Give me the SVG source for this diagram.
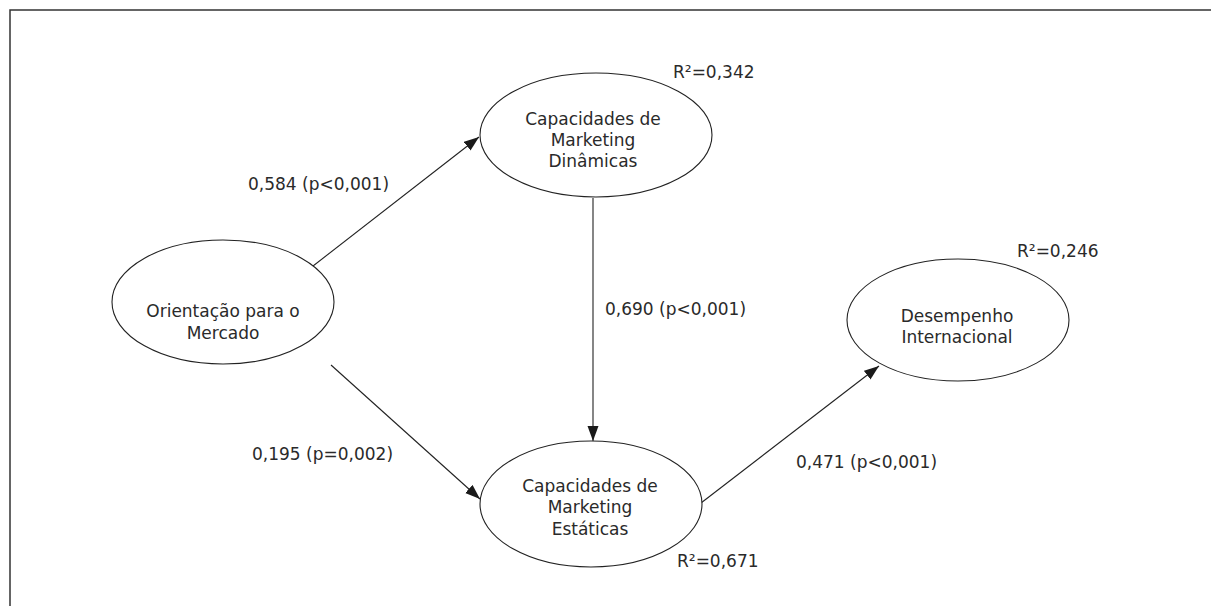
<svg xmlns="http://www.w3.org/2000/svg" width="1211" height="606" viewBox="0 0 1211 606">
<style>
.frame{fill:none;stroke:#333;stroke-width:1.5}
.node ellipse{fill:#fff;stroke:#222;stroke-width:1.1}
text{font-family:"DejaVu Sans","Liberation Sans",sans-serif;font-size:17px;fill:#2a2a2a}
.c{text-anchor:middle}
.edge{stroke:#222;stroke-width:1.1;fill:none;marker-end:url(#arr)}
</style>
<defs>
<marker id="arr" markerWidth="16" markerHeight="12" refX="15" refY="5.5" orient="auto" markerUnits="userSpaceOnUse">
<path d="M0,0 L15,5.5 L0,11 Z" fill="#1a1a1a"/>
</marker>
</defs>
<rect width="1211" height="606" fill="#fff"/>
<path class="frame" d="M10,606 L10,10 L1211,10"/>
<g id="connectors">
<line class="edge" x1="304" y1="273" x2="479" y2="137"/>
<line class="edge" x1="331" y1="365" x2="480" y2="499"/>
<line class="edge" x1="593" y1="198" x2="593" y2="441"/>
<line class="edge" x1="701" y1="503" x2="879" y2="366"/>
</g>
<g id="labels">
<text x="248" y="190">0,584 (p&lt;0,001)</text>
<text x="605" y="315">0,690 (p&lt;0,001)</text>
<text x="252" y="460">0,195 (p=0,002)</text>
<text x="796" y="468">0,471 (p&lt;0,001)</text>
</g>
<g id="node-orientacao" class="node">
<ellipse cx="223" cy="302" rx="111" ry="62"/>
<text class="c" x="223" y="317">Orientação para o</text>
<text class="c" x="223" y="339">Mercado</text>
</g>
<g id="node-dinamicas" class="node">
<ellipse cx="596" cy="135" rx="116" ry="62"/>
<text class="c" x="593" y="125">Capacidades de</text>
<text class="c" x="593" y="146">Marketing</text>
<text class="c" x="593" y="167">Dinâmicas</text>
<text x="673" y="78">R²=0,342</text>
</g>
<g id="node-estaticas" class="node">
<ellipse cx="591" cy="504" rx="111" ry="63"/>
<text class="c" x="590" y="492">Capacidades de</text>
<text class="c" x="590" y="513">Marketing</text>
<text class="c" x="590" y="535">Estáticas</text>
<text x="677" y="567">R²=0,671</text>
</g>
<g id="node-desempenho" class="node">
<ellipse cx="958" cy="320" rx="111" ry="61"/>
<text class="c" x="957" y="322">Desempenho</text>
<text class="c" x="957" y="343">Internacional</text>
<text x="1017" y="257">R²=0,246</text>
</g>
</svg>
